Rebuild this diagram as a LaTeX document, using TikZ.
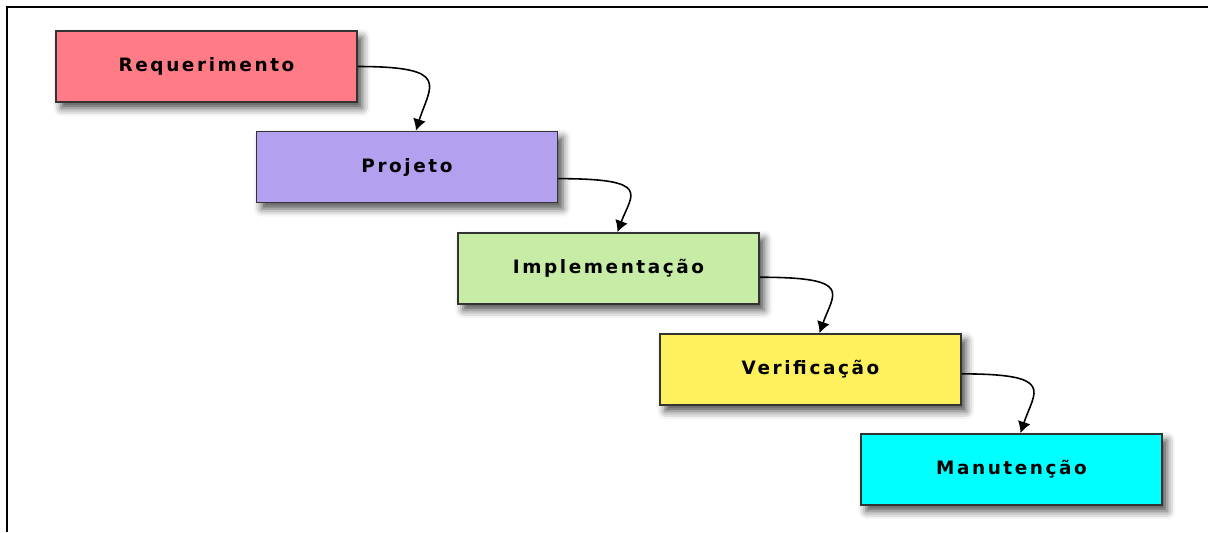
\documentclass[tikz,border=0pt]{standalone}
\usepackage{fontspec}
\newfontfamily\boxfont[LetterSpace=14]{DejaVu Sans}
\usetikzlibrary{calc,arrows.meta,shadows.blur}
\definecolor{reqpink}{HTML}{FF7B86}
\definecolor{projviolet}{HTML}{B3A0EF}
\definecolor{implgreen}{HTML}{C6ECA6}
\definecolor{verifyellow}{HTML}{FFF15E}
\definecolor{mancyan}{HTML}{00FFFF}
\begin{document}
\begin{tikzpicture}[x=0.02cm, y=-0.02cm,
  phase/.style={draw=black!80, line width=1pt, minimum width=6.02cm, minimum height=1.42cm,
    font=\boxfont\bfseries\fontsize{10.5}{12}\selectfont,
    blur shadow={shadow xshift=3pt, shadow yshift=-3.5pt, shadow blur radius=4.5pt, shadow opacity=70}},
  flow/.style={black, line width=0.9pt, -{Latex[length=6.5pt,width=7.5pt]}}]
\useasboundingbox (0,0) rectangle (1208,532);
% frame
\draw[line width=1.5pt] (7,532) -- (7,7) -- (1208,7);
% phases
\node[phase, fill=reqpink] (req) at (206.5,66.5) {Requerimento};
\node[phase, fill=projviolet] (proj) at (407,167) {Projeto};
\node[phase, fill=implgreen] (impl) at (608.5,268.5) {Implementação};
\node[phase, fill=verifyellow] (verif) at (810.5,369.5) {Verificação};
\node[phase, fill=mancyan] (man) at (1011.5,469.5) {Manutenção};
% arrows
\draw[flow] ($(req.north east)!0.5!(req.south east)$) .. controls +(95,0) and +(14,-45) .. ($(proj.north)+(9,0)$);
\draw[flow] ($(proj.north east)!0.66!(proj.south east)$) .. controls +(95,0) and +(14,-38) .. ($(impl.north)+(9,0)$);
\draw[flow] ($(impl.north east)!0.62!(impl.south east)$) .. controls +(95,0) and +(14,-40) .. ($(verif.north)+(9,0)$);
\draw[flow] ($(verif.north east)!0.56!(verif.south east)$) .. controls +(95,0) and +(14,-42) .. ($(man.north)+(9,0)$);
\end{tikzpicture}
\end{document}
